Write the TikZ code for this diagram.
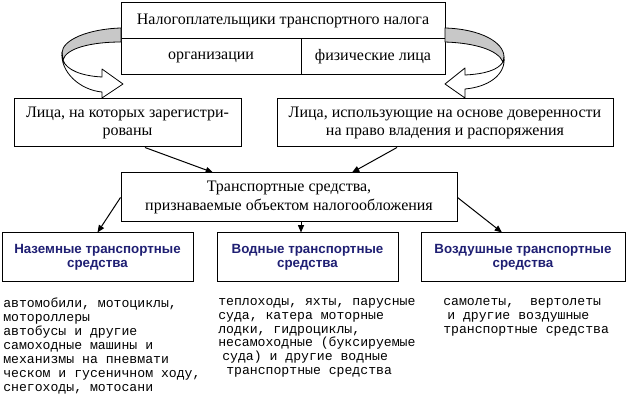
\documentclass[tikz,border=0pt]{standalone}
\usepackage{fontspec}
\setmainfont{Liberation Serif}
\newfontfamily\arialfont{Liberation Sans}
\newfontfamily\courfont{Liberation Mono}
\usetikzlibrary{arrows.meta}
\definecolor{navy}{RGB}{31,31,115}

\begin{document}
\begin{tikzpicture}[x=0.75pt,y=0.75pt,yscale=-1,xscale=1,
  box/.style={draw, line width=0.75pt, inner sep=0pt, align=center, font=\fontsize{12}{13.7}\selectfont},
  kind/.style={box, text=navy, font=\arialfont\bfseries\fontsize{10}{10.7}\selectfont},
  list/.style={anchor=north west, inner sep=0pt, align=left, font=\courfont\fontsize{9.86}{10.4}\selectfont},
  link/.style={-{Triangle[length=5.5pt,width=4.5pt]}, line width=0.75pt},
  band/.style={draw, line width=0.6pt, line join=round}]
\useasboundingbox (0,0) rectangle (627,402);

%Table: taxpayers
\node[box, minimum width=243pt, minimum height=27pt] (head) at (283,21) {Налогоплательщики транспортного налога};
\node[box, minimum width=135pt, minimum height=27pt] (org) at (211,57) {организации};
\node[box, minimum width=108pt, minimum height=27pt] (phys) at (373,57) {физические лица};

%Curved Arrow: left
\draw[band, fill={rgb, 255:red, 200; green, 200; blue, 200}] (121,28) .. controls (88,29) and (62,40) .. (62,53) -- (63,60) .. controls (66,48) and (92,42) .. (121,42) -- cycle;
\draw[band, fill=white] (62,52) .. controls (60,72) and (80,90) .. (102,92) -- (102,98) -- (123,84) -- (102,69) -- (102,77) .. controls (82,76) and (66,70) .. (63,60) -- cycle;
%Curved Arrow: right
\draw[band, fill={rgb, 255:red, 200; green, 200; blue, 200}] (445,28) .. controls (480,29) and (504,42) .. (504,57) -- (503,62) .. controls (498,50) and (475,43) .. (445,42) -- cycle;
\draw[band, fill=white] (504,57) .. controls (506,75) and (488,87) .. (465,89) -- (465,98) -- (445,84) -- (465,68) -- (465,75) .. controls (485,74) and (498,70) .. (503,62) -- cycle;

%Persons
\node[box, minimum width=170.25pt, minimum height=36pt] (lft) at (127.5,123) {Лица, на которых зарегистри-\\рованы};
\node[box, minimum width=252pt, minimum height=36pt] (rgt) at (445,123) {Лица, использующие на основе доверенности\\на право владения и распоряжения};

%Object of taxation
\node[box, minimum width=252pt, minimum height=36.75pt] (mid) at (289,197.5) {Транспортные средства,\\признаваемые объектом налогообложения};

%Kinds of vehicles
\node[kind, minimum width=143.25pt, minimum height=36pt] (gnd) at (97.5,257) {Наземные транспортные\\средства};
\node[kind, minimum width=135.75pt, minimum height=36pt] (wat) at (307.5,257) {Водные транспортные\\средства};
\node[kind, minimum width=153pt, minimum height=36pt] (air) at (523,257) {Воздушные транспортные\\средства};

% Connectors
\draw[link] ([xshift=13.1pt]lft.south) -- ([xshift=-57pt]mid.north);
\draw[link] ([xshift=-36pt]rgt.south) -- ([xshift=47.25pt]mid.north);
\draw[link] (mid.west) -- (gnd.north);
\draw[link] ([xshift=9pt]mid.south) -- ([xshift=9pt]mid.south |- wat.north);
\draw[link] (mid.east) -- ([xshift=-15.75pt]air.north);

% Text Node
\node[list] (gndlist) at (3,298) {автомобили, мотоциклы,\\мотороллеры\\автобусы и другие\\самоходные машины и\\механизмы на пневмати\\ческом и гусеничном ходу,\\снегоходы, мотосани};
% Text Node
\node[list] (watlist) at (218,298) {теплоходы, яхты, парусные\\суда, катера моторные\\лодки, гидроциклы,\\несамоходные (буксируемые\\\hspace*{3pt}суда) и другие водные\\\hspace*{6pt}транспортные средства};
% Text Node
\node[list] (airlist) at (443,298) {самолеты,\ \ вертолеты\\\hspace*{3pt}и другие воздушные\\транспортные средства};

\end{tikzpicture}
\end{document}
